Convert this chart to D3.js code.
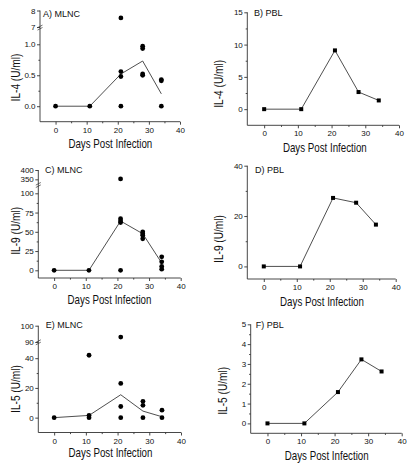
<!DOCTYPE html>
<html><head><meta charset="utf-8">
<script src="https://cdn.jsdelivr.net/npm/d3@7"></script>
<style>
body{margin:0;background:#fff}
svg{display:block}
text{font-family:"Liberation Sans",Arial,Helvetica,sans-serif;fill:#111}
</style>
</head><body>
<svg id="c" width="413" height="470"></svg>
<script>
// ---------- DATA ----------
const days = [0, 11, 21, 28, 34];
const xTicks = [0, 10, 20, 30, 40];
const xMinorTicks = [5, 15, 25, 35];

// A) MLNC IL-4 (individual animals + mean line)
const il4MlncDays = [0, 11, 21, 21, 21, 21, 28, 28, 28, 28, 34, 34, 34];
const il4MlncVals = [0, 0, 7.55, 0.56, 0.48, 0, 0.97, 0.93, 0.52, 0.50, 0.43, 0.41, 0];
const il4MlncMean = [0, 0, 0.52, 0.73, 0.2];
const il4MlncTicksLow = [0, 0.5, 1.0];
const il4MlncTicksHigh = [7, 8];

// B) PBL IL-4
const il4Pbl = [0, 0, 9.1, 2.65, 1.35];
const il4PblTicks = [0, 5, 10, 15];

// C) MLNC IL-9
const il9MlncDays = [0, 11, 21, 21, 21, 21, 21, 28, 28, 28, 28, 34, 34, 34, 34];
const il9MlncVals = [0, 0, 352, 67, 64, 62, 0, 50, 47.5, 45.5, 41, 17.5, 11, 5, 1.5];
const il9MlncMean = [0, 0, 64, 47.5, 9.5];
const il9MlncTicksLow = [0, 25, 50, 75, 100];
const il9MlncTicksHigh = [350, 400];

// D) PBL IL-9
const il9Pbl = [0, 0, 27.2, 25.3, 16.6];
const il9PblTicks = [0, 20, 40];

// E) MLNC IL-5
const il5MlncDays = [0, 11, 11, 11, 21, 21, 21, 21, 28, 28, 28, 34, 34];
const il5MlncVals = [0, 42, 1.5, 0, 93, 23, 7.5, 0, 11, 8.3, 0, 5, 0];
const il5MlncMean = [0, 1.5, 15.4, 4.4, 0.6];
const il5MlncTicksLow = [0, 20, 40];
const il5MlncTicksHigh = [90, 100];

// F) PBL IL-5
const il5Pbl = [0, 0, 1.58, 3.23, 2.62];
const il5PblTicks = [0, 1, 2, 3, 4, 5];

// ---------- LAYOUT ----------
const svg = d3.select("#c");
const SQ = 0.78; // horizontal compression for axis titles

const panels = [
  {title:"A) MLNC", ylabel:"IL-4 (U/ml)", type:"mlnc", left:40, right:180, bottom:121.7,
   segs:[{dom:[-0.25,1.25], rng:[121.7,28.8], ticks:il4MlncTicksLow, minor:[0.25,0.75], fmt:d3.format(".1f")},
         {dom:[7,8], rng:[27,10.5], ticks:il4MlncTicksHigh, minor:[], fmt:d3.format("d")}],
   breakY:27.6, ptsX:il4MlncDays, ptsY:il4MlncVals, line:il4MlncMean,
   tx:43, ty:16.5, xl:[110.3,147.5], yl:[15,77.5]},
  {title:"B) PBL", ylabel:"IL-4 (U/ml)", type:"pbl", left:247.3, right:399, bottom:125.3,
   segs:[{dom:[-2.5,15], rng:[125.3,12.3], ticks:il4PblTicks, minor:[2.5,7.5,12.5], fmt:d3.format("d")}],
   line:il4Pbl, tx:254, ty:15.7, xl:[324.8,152.3], yl:[218.8,83.8]},
  {title:"C) MLNC", ylabel:"IL-9 (U/ml)", type:"mlnc", left:38.3, right:180.7, bottom:278,
   segs:[{dom:[-10,110], rng:[278,185.6], ticks:il9MlncTicksLow, minor:[12.5,37.5,62.5,87.5], fmt:d3.format("d")},
         {dom:[325,400], rng:[184,170], ticks:il9MlncTicksHigh, minor:[], fmt:d3.format("d")}],
   breakY:185, ptsX:il9MlncDays, ptsY:il9MlncVals, line:il9MlncMean,
   tx:45, ty:173.3, xl:[109.5,304], yl:[15.3,230.8]},
  {title:"D) PBL", ylabel:"IL-9 (U/ml)", type:"pbl", left:247.3, right:395.7, bottom:279,
   segs:[{dom:[-5,40], rng:[279,165.7], ticks:il9PblTicks, minor:[10,30], fmt:d3.format("d")}],
   line:il9Pbl, tx:255, ty:173.3, xl:[322,305.8], yl:[218.5,239]},
  {title:"E) MLNC", ylabel:"IL-5 (U/ml)", type:"mlnc", left:38.3, right:181, bottom:432.5,
   segs:[{dom:[-10,50.5], rng:[432.5,342.6], ticks:il5MlncTicksLow, minor:[10,30], fmt:d3.format("d")},
         {dom:[90,100], rng:[342,325.7], ticks:il5MlncTicksHigh, minor:[], fmt:d3.format("d")}],
   breakY:342.3, ptsX:il5MlncDays, ptsY:il5MlncVals, line:il5MlncMean,
   tx:45.7, ty:328.3, xl:[110.5,456.5], yl:[15.3,389]},
  {title:"F) PBL", ylabel:"IL-5 (U/ml)", type:"pbl", left:250.7, right:401.7, bottom:433.3,
   segs:[{dom:[-0.5,5], rng:[433.3,324.3], ticks:il5PblTicks, minor:[0.5,1.5,2.5,3.5,4.5], fmt:d3.format("d")}],
   line:il5Pbl, tx:255.7, ty:328.3, xl:[326.7,459.8], yl:[222.2,390.8]}
];

function styleAxis(g){
  g.select(".domain").remove();
  g.selectAll(".tick line").attr("stroke","#333").attr("stroke-width",0.9);
  g.selectAll(".tick text").attr("font-size","8px").attr("fill","#222")
    .attr("font-family",'"Liberation Sans",Arial,sans-serif');
}

panels.forEach(p => {
  const g = svg.append("g");
  const x = d3.scaleLinear().domain([-5,40]).range([p.left,p.right]);
  const scales = p.segs.map(s => d3.scaleLinear().domain(s.dom).range(s.rng));
  const y = v => {
    for (let i = p.segs.length-1; i >= 0; i--) {
      if (v >= p.segs[i].dom[0]) return scales[i](v);
    }
    return scales[0](v);
  };
  const yTop = p.segs[p.segs.length-1].rng[1];

  g.append("line").attr("x1",p.left).attr("x2",p.left).attr("y1",p.bottom).attr("y2",yTop)
    .attr("stroke","#333").attr("stroke-width",0.9);
  g.append("line").attr("x1",p.left).attr("x2",p.right).attr("y1",p.bottom).attr("y2",p.bottom)
    .attr("stroke","#333").attr("stroke-width",0.9);

  g.append("g").attr("transform",`translate(0,${p.bottom})`)
    .call(d3.axisBottom(x).tickValues(xTicks).tickSize(3).tickPadding(2.5).tickFormat(d3.format("d")))
    .call(styleAxis);
  g.append("g").attr("transform",`translate(0,${p.bottom})`)
    .call(d3.axisBottom(x).tickValues(xMinorTicks).tickSize(1.6).tickFormat(""))
    .call(styleAxis);

  p.segs.forEach((s,i) => {
    g.append("g").attr("transform",`translate(${p.left},0)`)
      .call(d3.axisLeft(scales[i]).tickValues(s.ticks).tickSize(3).tickPadding(1.5).tickFormat(s.fmt))
      .call(styleAxis);
    if (s.minor.length)
      g.append("g").attr("transform",`translate(${p.left},0)`)
        .call(d3.axisLeft(scales[i]).tickValues(s.minor).tickSize(1.6).tickFormat(""))
        .call(styleAxis);
  });

  if (p.breakY !== undefined) {
    [-1.2, 1.2].forEach(o => {
      g.append("line").attr("x1",p.left-2.5).attr("x2",p.left+2.5)
        .attr("y1",p.breakY+o+1.3).attr("y2",p.breakY+o-1.3)
        .attr("stroke","#333").attr("stroke-width",0.7);
    });
  }

  const lineGen = d3.line().x((d,i)=>x(days[i])).y(d=>y(d));
  g.append("path").datum(p.line).attr("d",lineGen)
    .attr("fill","none").attr("stroke","#222").attr("stroke-width",0.8);

  if (p.type === "mlnc") {
    g.selectAll("circle.pt").data(p.ptsY).enter().append("circle")
      .attr("cx",(d,i)=>x(p.ptsX[i])).attr("cy",d=>y(d)).attr("r",2.4).attr("fill","#000");
  } else {
    const s = 4;
    g.selectAll("rect.pt").data(p.line).enter().append("rect")
      .attr("x",(d,i)=>x(days[i])-s/2).attr("y",d=>y(d)-s/2)
      .attr("width",s).attr("height",s).attr("fill","#000");
  }

  g.append("text").attr("x",p.tx).attr("y",p.ty).attr("font-size","9px").text(p.title);

  g.append("g").attr("transform",`translate(${p.xl[0]},${p.xl[1]}) scale(${SQ},1)`)
    .append("text").attr("text-anchor","middle").attr("font-size","12.5px").text("Days Post Infection");

  g.append("g").attr("transform",`translate(${p.yl[0]},${p.yl[1]}) rotate(-90) scale(${SQ},1)`)
    .append("text").attr("text-anchor","middle").attr("dy","0.35em").attr("font-size","13px").text(p.ylabel);
});
</script>
</body></html>
